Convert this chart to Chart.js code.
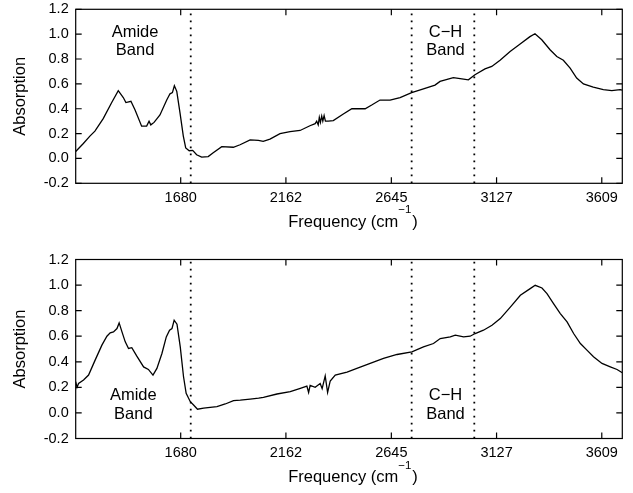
<!DOCTYPE html>
<html><head><meta charset="utf-8">
<script src="https://cdn.jsdelivr.net/npm/chart.js@4/dist/chart.umd.min.js"></script>
<style>
html,body{margin:0;padding:0;background:#fff;}
#wrap{position:relative;width:633px;height:493px;overflow:hidden;}
.pane{position:absolute;left:0;width:633px;}
</style></head><body>
<div id="wrap">
  <div class="pane" style="top:0;height:246px"><canvas id="c1" width="633" height="246"></canvas></div>
  <div class="pane" style="top:246px;height:247px"><canvas id="c2" width="633" height="247"></canvas></div>
</div>
<script>
// ---- data ----
const xTickValues = [1680, 2162, 2645, 3127, 3609];
const xRange = [1199, 3703];
const yRange = [-0.2, 1.2];
const bandEdges = [1726, 2738, 3025];
const amideLabel = ['Amide', 'Band'];
const chLabel = ['C\u2212H', 'Band'];
const yTitle = 'Absorption';
const xTitleParts = ['Frequency (cm', '\u22121', ')'];

const freqTop = [1199,1234,1264,1287,1325,1364,1394,1417,1429,1452,1471,1501,1524,1535,1543,1558,1585,1616,1631,1642,1651,1662,1677,1692,1703,1719,1735,1753,1776,1806,1829,1868,1921,1952,1998,2036,2058,2089,2135,2181,2227,2272,2296,2303,2310,2315,2320,2326,2331,2337,2343,2356,2379,2425,2464,2525,2555,2593,2639,2685,2738,2792,2845,2868,2929,2968,2998,3028,3074,3105,3143,3189,3235,3280,3303,3334,3372,3403,3433,3464,3494,3525,3570,3616,3655,3693,3703];
const absTop = [0.056,0.12,0.18,0.22,0.32,0.45,0.545,0.49,0.45,0.46,0.39,0.26,0.26,0.30,0.27,0.29,0.35,0.47,0.52,0.53,0.585,0.54,0.365,0.18,0.085,0.062,0.065,0.03,0.01,0.015,0.045,0.095,0.09,0.11,0.15,0.145,0.137,0.156,0.20,0.215,0.225,0.263,0.28,0.30,0.27,0.33,0.29,0.34,0.30,0.345,0.30,0.30,0.305,0.357,0.40,0.40,0.43,0.47,0.47,0.49,0.53,0.56,0.59,0.62,0.65,0.64,0.633,0.673,0.72,0.74,0.79,0.86,0.92,0.98,1.003,0.955,0.875,0.82,0.79,0.727,0.647,0.60,0.574,0.553,0.545,0.553,0.55];

const freqBottom = [1199,1205,1212,1235,1258,1288,1319,1342,1357,1372,1388,1398,1411,1426,1441,1456,1479,1510,1532,1553,1571,1594,1614,1629,1640,1650,1663,1678,1693,1705,1724,1739,1757,1785,1815,1846,1884,1922,1953,1998,2037,2059,2121,2182,2228,2258,2266,2273,2296,2319,2328,2342,2353,2365,2388,2442,2487,2548,2609,2671,2739,2792,2838,2869,2915,2938,2976,3006,3029,3067,3106,3144,3190,3236,3281,3304,3335,3358,3388,3419,3450,3480,3511,3541,3571,3610,3648,3679,3703];
const absBottom = [0.244,0.20,0.23,0.257,0.296,0.413,0.53,0.60,0.626,0.634,0.66,0.704,0.634,0.556,0.504,0.51,0.444,0.36,0.34,0.296,0.348,0.465,0.595,0.647,0.66,0.725,0.694,0.517,0.283,0.154,0.088,0.062,0.029,0.037,0.044,0.05,0.07,0.096,0.10,0.108,0.115,0.122,0.148,0.166,0.192,0.21,0.16,0.215,0.20,0.23,0.19,0.29,0.16,0.25,0.296,0.32,0.348,0.387,0.426,0.457,0.478,0.517,0.543,0.582,0.595,0.608,0.595,0.60,0.621,0.647,0.686,0.738,0.828,0.92,0.972,0.998,0.977,0.933,0.855,0.777,0.712,0.621,0.543,0.491,0.439,0.387,0.361,0.34,0.314];

// ---- drawing ----
const FONT = '"Liberation Sans", Arial, Helvetica, sans-serif';

const framePlugin = {
  id: 'frame',
  afterDatasetsDraw(chart, args, opts) {
    const {ctx, chartArea: a, scales: {x, y}} = chart;
    ctx.save();
    ctx.strokeStyle = '#000';
    ctx.lineWidth = 1.2;
    ctx.strokeRect(a.left, a.top, a.right - a.left, a.bottom - a.top);
    const tl = 6;
    ctx.beginPath();
    x.ticks.forEach(t => {
      const px = x.getPixelForValue(t.value);
      ctx.moveTo(px, a.bottom); ctx.lineTo(px, a.bottom - tl);
      ctx.moveTo(px, a.top); ctx.lineTo(px, a.top + tl);
    });
    y.ticks.forEach(t => {
      const py = y.getPixelForValue(t.value);
      ctx.moveTo(a.left, py); ctx.lineTo(a.left + tl, py);
      ctx.moveTo(a.right, py); ctx.lineTo(a.right - tl, py);
    });
    ctx.stroke();
    ctx.fillStyle = '#000';
    ctx.textBaseline = 'middle';
    // band labels
    ctx.font = '16.5px ' + FONT;
    ctx.textAlign = 'center';
    (opts.labels || []).forEach(l => {
      const px = x.getPixelForValue(l.x);
      const py = y.getPixelForValue(l.y);
      l.lines.forEach((s, i) => ctx.fillText(s, px, py + i * 18.5));
    });
    // x-axis title with superscript
    const mainFont = '16.5px ' + FONT, supFont = '11.5px ' + FONT;
    ctx.font = mainFont;
    const w0 = ctx.measureText(xTitleParts[0]).width;
    const w2 = ctx.measureText(xTitleParts[2]).width;
    ctx.font = supFont;
    const w1 = ctx.measureText(xTitleParts[1]).width;
    const total = w0 + w1 + w2 + 1;
    const cx = (a.left + a.right) / 2 + 4;
    const ty = a.bottom + 39;
    let tx = cx - total / 2;
    ctx.textAlign = 'left';
    ctx.font = mainFont;
    ctx.fillText(xTitleParts[0], tx, ty);
    tx += w0;
    ctx.font = supFont;
    ctx.fillText(xTitleParts[1], tx, ty - 12);
    tx += w1 + 1;
    ctx.font = mainFont;
    ctx.fillText(xTitleParts[2], tx, ty);
    ctx.restore();
  }
};

function makeChart(id, freq, abs, cfg) {
  const datasets = [];
  bandEdges.forEach(e => {
    datasets.push({
      data: [{x: e, y: yRange[0]}, {x: e, y: yRange[1]}],
      showLine: true, borderColor: '#000', borderWidth: 1.8,
      borderDash: [1.8, 5.2], pointRadius: 0, order: 2
    });
  });
  datasets.push({
    data: freq.map((f, i) => ({x: f, y: abs[i]})),
    showLine: true, borderColor: '#000', borderWidth: 1.3,
    pointRadius: 0, tension: 0, order: 1
  });
  return new Chart(document.getElementById(id), {
    type: 'scatter',
    data: {datasets},
    plugins: [framePlugin],
    options: {
      responsive: false,
      animation: false,
      events: [],
      layout: {padding: {top: cfg.padTop, right: 10.7, bottom: 0, left: 0}},
      plugins: {
        legend: {display: false},
        tooltip: {enabled: false},
        frame: {labels: cfg.labels}
      },
      scales: {
        x: {
          type: 'linear', min: xRange[0], max: xRange[1],
          grid: {display: false, drawTicks: false},
          border: {display: false},
          afterBuildTicks: s => { s.ticks = xTickValues.map(v => ({value: v})); },
          afterFit: s => { s.height = cfg.xHeight; s.paddingLeft = 0; s.paddingRight = 0; },
          ticks: {
            padding: 6, color: '#000', maxRotation: 0, autoSkip: false,
            font: {family: FONT, size: 14.5},
            callback: v => String(v)
          },
          title: {display: false}
        },
        y: {
          type: 'linear', min: yRange[0], max: yRange[1],
          grid: {display: false, drawTicks: false},
          border: {display: false},
          afterFit: s => { s.width = 75.7; s.paddingTop = 0; s.paddingBottom = 0; },
          ticks: {
            stepSize: 0.2, padding: 7, color: '#000',
            font: {family: FONT, size: 14.5},
            callback: v => (Math.abs(v) < 1e-9 ? 0 : v).toFixed(1)
          },
          title: {
            display: true, text: yTitle, color: '#000',
            font: {family: FONT, size: 16.5},
            padding: {top: 11, bottom: 0}
          }
        }
      }
    }
  });
}

makeChart('c1', freqTop, absTop, {
  padTop: 9.3, xHeight: 62.7,
  labels: [
    {lines: amideLabel, x: 1471, y: 1.017},
    {lines: chLabel, x: 2893, y: 1.017}
  ]
});
makeChart('c2', freqBottom, absBottom, {
  padTop: 13.5, xHeight: 54.5,
  labels: [
    {lines: amideLabel, x: 1463, y: 0.135},
    {lines: chLabel, x: 2893, y: 0.135}
  ]
});
</script>
</body></html>
